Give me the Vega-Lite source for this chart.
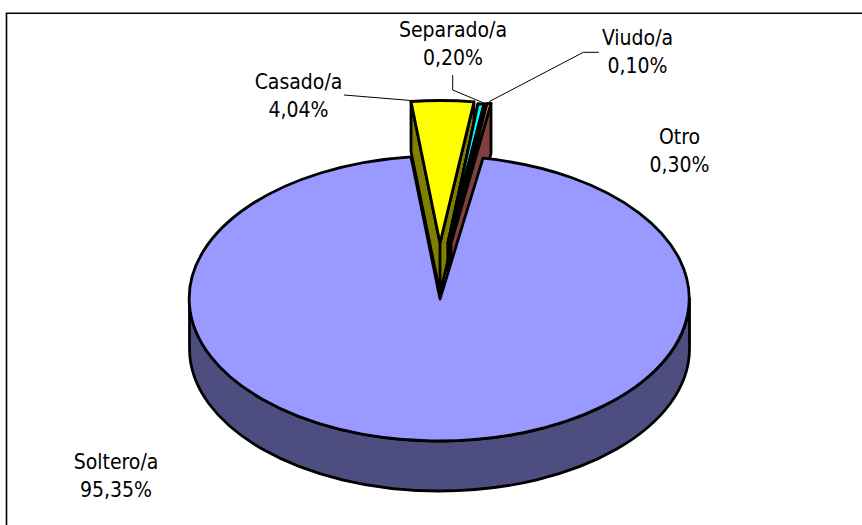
{
"$schema":"https://vega.github.io/schema/vega-lite/v6.json",
"width":862,"height":525,"padding":0,"autosize":{"type":"none"},"background":"white",
"config":{"view":{"stroke":null}},
"data":{"values":[
{"estado":"Soltero/a","porcentaje":95.35,"etiqueta":"Soltero/a\n95,35%"},
{"estado":"Casado/a","porcentaje":4.04,"etiqueta":"Casado/a\n4,04%"},
{"estado":"Separado/a","porcentaje":0.20,"etiqueta":"Separado/a\n0,20%"},
{"estado":"Viudo/a","porcentaje":0.10,"etiqueta":"Viudo/a\n0,10%"},
{"estado":"Otro","porcentaje":0.30,"etiqueta":"Otro\n0,30%"}
]},
"resolve":{"scale":{"shape":"independent","fill":"independent"}},
"layer":[
{"data":{"values":[{"elemento":"marco"}]},
 "mark":{"type":"point","filled":false,"size":4,"stroke":"black","strokeWidth":1.6,"opacity":1,"shape":"M-424.5 263L-424.5 -249.3L432 -249.3"}},
{"mark":{"type":"point","filled":true,"size":4,"stroke":"black","strokeWidth":2.8,"opacity":1,"strokeJoin":"round"},
 "encoding":{
  "shape":{"field":"estado","type":"nominal","legend":null,"scale":{"domain":["Soltero/a","Casado/a","Separado/a","Viudo/a","Otro"],"range":[
   "M-241.5 36L-241.5 86A250 142.5 0 0 0 258.5 86L258.5 36A250 142.5 0 0 1 -241.5 36Z",
   "M-20 -161L-20 -111L9 30.5L9 -19.5ZM43 -160.7L9 -19.5L9 30.5L43 -109.5Z",
   "M47 -158.5L17 -19.5L17 30.5L47 -109.5Z",
   "M47 -158.5L17 -19.5L17 30.5L47 -109.5Z",
   "M60 -159L60 -109L20 30.5L20 -19.5Z"]}},
  "fill":{"field":"estado","type":"nominal","legend":null,"scale":{"domain":["Soltero/a","Casado/a","Separado/a","Viudo/a","Otro"],"range":["#4D4D80","#808000","#000000","#000000","#804040"]}}
 }},
{"mark":{"type":"point","filled":true,"size":4,"stroke":"black","strokeWidth":2.8,"opacity":1,"strokeJoin":"round"},
 "encoding":{
  "shape":{"field":"estado","type":"nominal","legend":null,"scale":{"domain":["Soltero/a","Casado/a","Separado/a","Viudo/a","Otro"],"range":[
   "M9 36.5L52 -104.3A250 142.5 0 1 1 -20 -105.6Z",
   "M9 -19.5L-20 -161A250 142.5 0 0 1 43 -160.7Z",
   "M17 -19.5L47 -158.5L53 -158.5Z",
   "M17 -19.5L53 -158.5L56 -158.8Z",
   "M20 -19.5L56 -158.8L60 -159Z"]}},
  "fill":{"field":"estado","type":"nominal","legend":null,"scale":{"domain":["Soltero/a","Casado/a","Separado/a","Viudo/a","Otro"],"range":["#9999FF","#FFFF00","#00FFFF","#000000","#FF8080"]}}
 }},
{"transform":[{"filter":"datum.estado==='Casado/a'||datum.estado==='Separado/a'||datum.estado==='Viudo/a'"}],
 "mark":{"type":"point","filled":false,"size":4,"stroke":"black","strokeWidth":1,"opacity":1},
 "encoding":{
  "shape":{"field":"estado","type":"nominal","legend":null,"scale":{"domain":["Casado/a","Separado/a","Viudo/a"],"range":[
   "M-87 -167.5L-20 -162",
   "M21.7 -187.5L21.7 -172.5L52 -159.8",
   "M167.7 -210.2L152.3 -210.2L58 -160.8"]}}
 }},
{"transform":[{"filter":"datum.estado==='Soltero/a'"}],
 "mark":{"type":"text","font":"DejaVu Sans Condensed","fontSize":21,"lineBreak":"\n","lineHeight":28,"align":"center","baseline":"middle","dx":-315,"dy":200,"color":"black"},
 "encoding":{"text":{"field":"etiqueta"}}},
{"transform":[{"filter":"datum.estado==='Casado/a'"}],
 "mark":{"type":"text","font":"DejaVu Sans Condensed","fontSize":21,"lineBreak":"\n","lineHeight":28,"align":"center","baseline":"middle","dx":-132.5,"dy":-180,"color":"black"},
 "encoding":{"text":{"field":"etiqueta"}}},
{"transform":[{"filter":"datum.estado==='Separado/a'"}],
 "mark":{"type":"text","font":"DejaVu Sans Condensed","fontSize":21,"lineBreak":"\n","lineHeight":28,"align":"center","baseline":"middle","dx":22,"dy":-232,"color":"black"},
 "encoding":{"text":{"field":"etiqueta"}}},
{"transform":[{"filter":"datum.estado==='Viudo/a'"}],
 "mark":{"type":"text","font":"DejaVu Sans Condensed","fontSize":21,"lineBreak":"\n","lineHeight":28,"align":"center","baseline":"middle","dx":206.5,"dy":-224,"color":"black"},
 "encoding":{"text":{"field":"etiqueta"}}},
{"transform":[{"filter":"datum.estado==='Otro'"}],
 "mark":{"type":"text","font":"DejaVu Sans Condensed","fontSize":21,"lineBreak":"\n","lineHeight":28,"align":"center","baseline":"middle","dx":248.5,"dy":-125,"color":"black"},
 "encoding":{"text":{"field":"etiqueta"}}}
]
}
